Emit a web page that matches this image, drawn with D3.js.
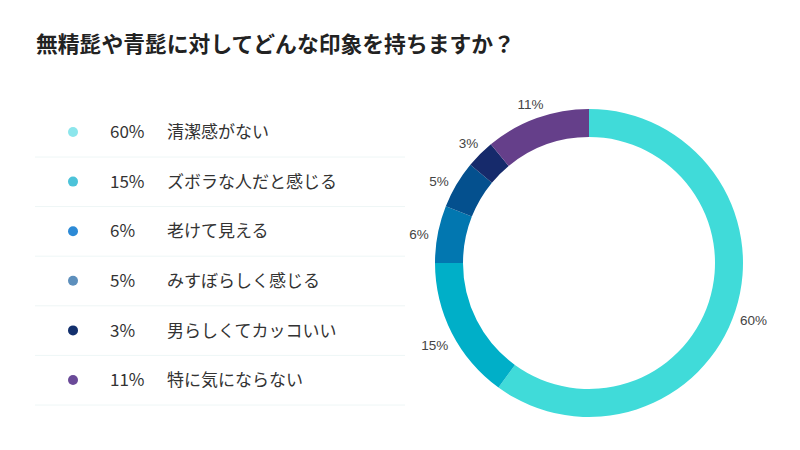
<!DOCTYPE html>
<html><head><meta charset="utf-8">
<script src="https://cdn.jsdelivr.net/npm/d3@7/dist/d3.min.js"></script>
<style>body{margin:0;background:#fff}</style>
</head><body><svg id="c" width="800" height="450"></svg>
<script>
const title = "無精髭や青髭に対してどんな印象を持ちますか？";
const categories = ["清潔感がない","ズボラな人だと感じる","老けて見える","みすぼらしく感じる","男らしくてカッコいい","特に気にならない"];
const values = [60,15,6,5,3,11];
const sliceColors = ["#40dbd9","#00afc8","#0277b0","#04508e","#162a6b","#653f8a"];
const dotColors = ["#8ce6ec","#4cc3d9","#2c8ad6","#5d8fbc","#13306d","#6a4a98"];

const svg = d3.select("#c");
svg.append("text").attr("x",36).attr("y",52).text(title)
  .attr("font-family","'Noto Sans CJK JP'").attr("font-weight",700)
  .attr("font-size",21.8).attr("fill","#222");

// legend
const rowY = d3.scalePoint().domain(d3.range(categories.length)).range([132,380]);
const lg = svg.append("g");
categories.forEach((c,i)=>{
  const y = rowY(i);
  lg.append("circle").attr("cx",73).attr("cy",y).attr("r",5).attr("fill",dotColors[i]);
  lg.append("text").attr("x",110).attr("y",y).attr("dy","0.36em").text(values[i]+"%")
    .attr("font-family","'Noto Sans CJK JP'").attr("font-size",17).attr("fill","#333");
  lg.append("text").attr("x",167).attr("y",y).attr("dy","0.36em").text(c)
    .attr("font-family","'Noto Sans CJK JP'").attr("font-size",17).attr("fill","#333");
  lg.append("line").attr("x1",35).attr("x2",405).attr("y1",y+25).attr("y2",y+25)
    .attr("stroke","#eef6f6").attr("stroke-width",1);
});

// donut
const cx = 589, cy = 263, R = 154, r0 = 126;
const pie = d3.pie().sort(null).value(d=>d)(values);
const arc = d3.arc().innerRadius(r0).outerRadius(R);
const g = svg.append("g").attr("transform",`translate(${cx},${cy})`);
g.selectAll("path").data(pie).join("path").attr("d",arc).attr("fill",(d,i)=>sliceColors[i]);

// labels with simple angular relaxation
const deg = Math.PI/180;
let ang = pie.map(d=>(d.startAngle+d.endAngle)/2);
const minSep = 16*deg;
for(let it=0; it<50; it++){
  for(let i=0;i<ang.length-1;i++){
    const diff = ang[i+1]-ang[i];
    if(diff<minSep){
      const push=(minSep-diff)/2;
      ang[i]-=push; ang[i+1]+=push;
    }
  }
}
const LR = 173;
g.selectAll("text.lbl").data(pie).join("text").attr("class","lbl")
  .attr("x",(d,i)=>LR*Math.sin(ang[i]))
  .attr("y",(d,i)=>-LR*Math.cos(ang[i]))
  .attr("dy","0.65em").attr("text-anchor","middle")
  .text(d=>d.data+"%")
  .attr("font-family","'Liberation Sans', Arial, sans-serif").attr("font-size",13.5).attr("fill","#444");
</script></body></html>
